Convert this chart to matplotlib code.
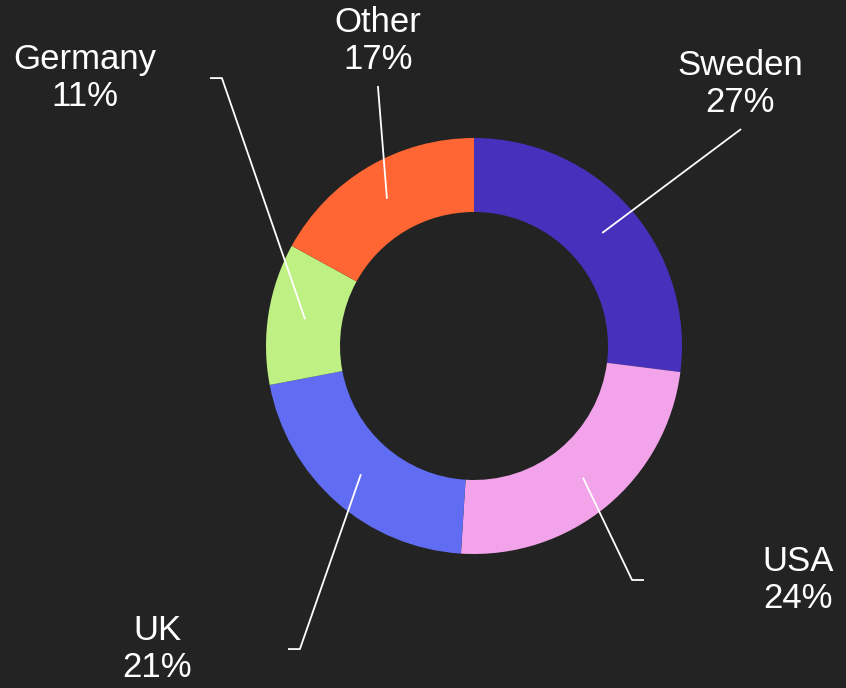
import numpy as np
import matplotlib
matplotlib.use("Agg")
from matplotlib import pyplot as plt

plt.rcParams['font.family'] = ['Liberation Sans', 'DejaVu Sans']

# data
countries = ["Sweden", "USA", "UK", "Germany", "Other"]
shares = [27, 24, 21, 11, 17]
colors = ["#4730bb", "#f2a3ea", "#606df2", "#bef084", "#ff6633"]

# label layout (radius units): text centre, knee of the leader, tail length
text_pos = [(1.279, 1.26), (1.558, -1.125), (-1.524, -1.457), (-1.87, 1.288), (-0.462, 1.466)]
knee_pos = [(1.284, 1.043), (0.76, -1.125), (-0.837, -1.457), (-1.212, 1.288), (-0.462, 1.25)]
tails = [0, 0.057, -0.057, -0.057, 0]

bg = "#232323"
fig = plt.figure(figsize=(8.46, 6.88), dpi=100, facecolor=bg)
ax = fig.add_axes([0, 0, 1, 1])
ax.set_facecolor(bg)

inner = 134 / 208
wedges, _ = ax.pie(shares, colors=colors, startangle=90, counterclock=False,
                   radius=1, wedgeprops=dict(width=1 - inner, linewidth=0))

rmid = (1 + inner) / 2
for w, name, s, tp, kp, tl in zip(wedges, countries, shares, text_pos, knee_pos, tails):
    ang = np.deg2rad((w.theta1 + w.theta2) / 2)
    x0, y0 = rmid * np.cos(ang), rmid * np.sin(ang)
    # leader line: middle of ring -> knee -> short horizontal tail
    xs = [x0, kp[0], kp[0] + tl]
    ys = [y0, kp[1], kp[1]]
    ax.plot(xs, ys, color="white", lw=1.3, solid_capstyle="butt")
    ax.text(tp[0], tp[1], "%s\n%d%%" % (name, s), color="white", fontsize=25,
            ha="center", va="center", linespacing=1.15)

ax.set_xlim(-474 / 208, (846 - 474) / 208)
ax.set_ylim(-(688 - 346) / 208, 346 / 208)
ax.set_aspect("equal")
ax.axis("off")

plt.savefig("out.png", dpi=100, facecolor=bg)
